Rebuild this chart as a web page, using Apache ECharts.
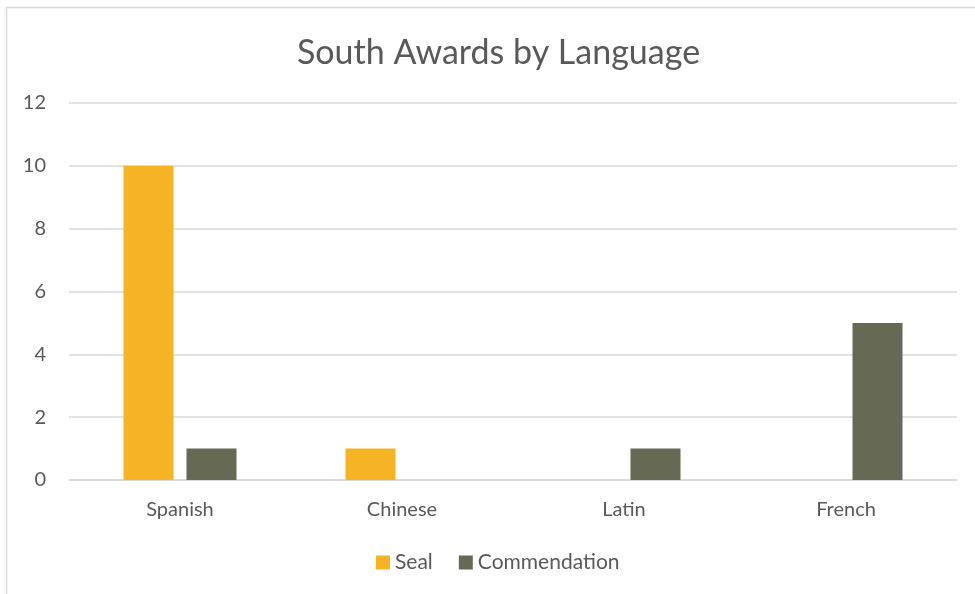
<!DOCTYPE html>
<html><head><meta charset="utf-8">
<script src="https://cdn.jsdelivr.net/npm/echarts@6/dist/echarts.min.js"></script>
<style>html,body{margin:0;padding:0;background:#fff}#c{width:975px;height:594px}</style>
</head><body><div id="c"></div>
<script>
const categories = ['Spanish', 'Chinese', 'Latin', 'French'];
const sealValues = [10, 1, null, null];
const commendationValues = [1, null, 1, 5];
const yTicks = [0, 2, 4, 6, 8, 10, 12];

const chart = echarts.init(document.getElementById('c'));
const font = 'Lato, "Open Sans", sans-serif';
chart.setOption({
  animation: false,
  graphic: [{type: 'rect', shape: {x: 6.5, y: 7.5, width: 1200, height: 1200}, style: {fill: 'none', stroke: '#d9d9d9', lineWidth: 1.5}, silent: true}],
  title: {text: 'South Awards by Language', left: 292, top: 31,
    textStyle: {fontFamily: font, fontSize: 34, fontWeight: 'normal', color: '#595959'}},
  legend: {bottom: 16, left: 371, itemWidth: 14, itemHeight: 14, itemGap: 26, icon: 'rect',
    textStyle: {fontFamily: font, fontSize: 21, color: '#595959'}},
  grid: {left: 69, right: 18, top: 103, bottom: 114},
  xAxis: {type: 'category', data: categories,
    axisLine: {lineStyle: {color: '#d9d9d9', width: 1.5}}, axisTick: {show: false},
    axisLabel: {fontFamily: font, fontSize: 20, color: '#595959', margin: 20}},
  yAxis: {type: 'value', min: yTicks[0], max: yTicks[yTicks.length - 1], interval: 2,
    axisLine: {show: false}, axisTick: {show: false},
    axisLabel: {fontFamily: font, fontSize: 20, color: '#595959', margin: 23},
    splitLine: {lineStyle: {color: '#d9d9d9', width: 1.5}}},
  series: [
    {name: 'Seal', type: 'bar', data: sealValues, barWidth: 50, barGap: '26%', itemStyle: {color: '#F6B323'}},
    {name: 'Commendation', type: 'bar', data: commendationValues, barWidth: 50, barGap: '26%', itemStyle: {color: '#666A55'}}
  ]
});
</script></body></html>
